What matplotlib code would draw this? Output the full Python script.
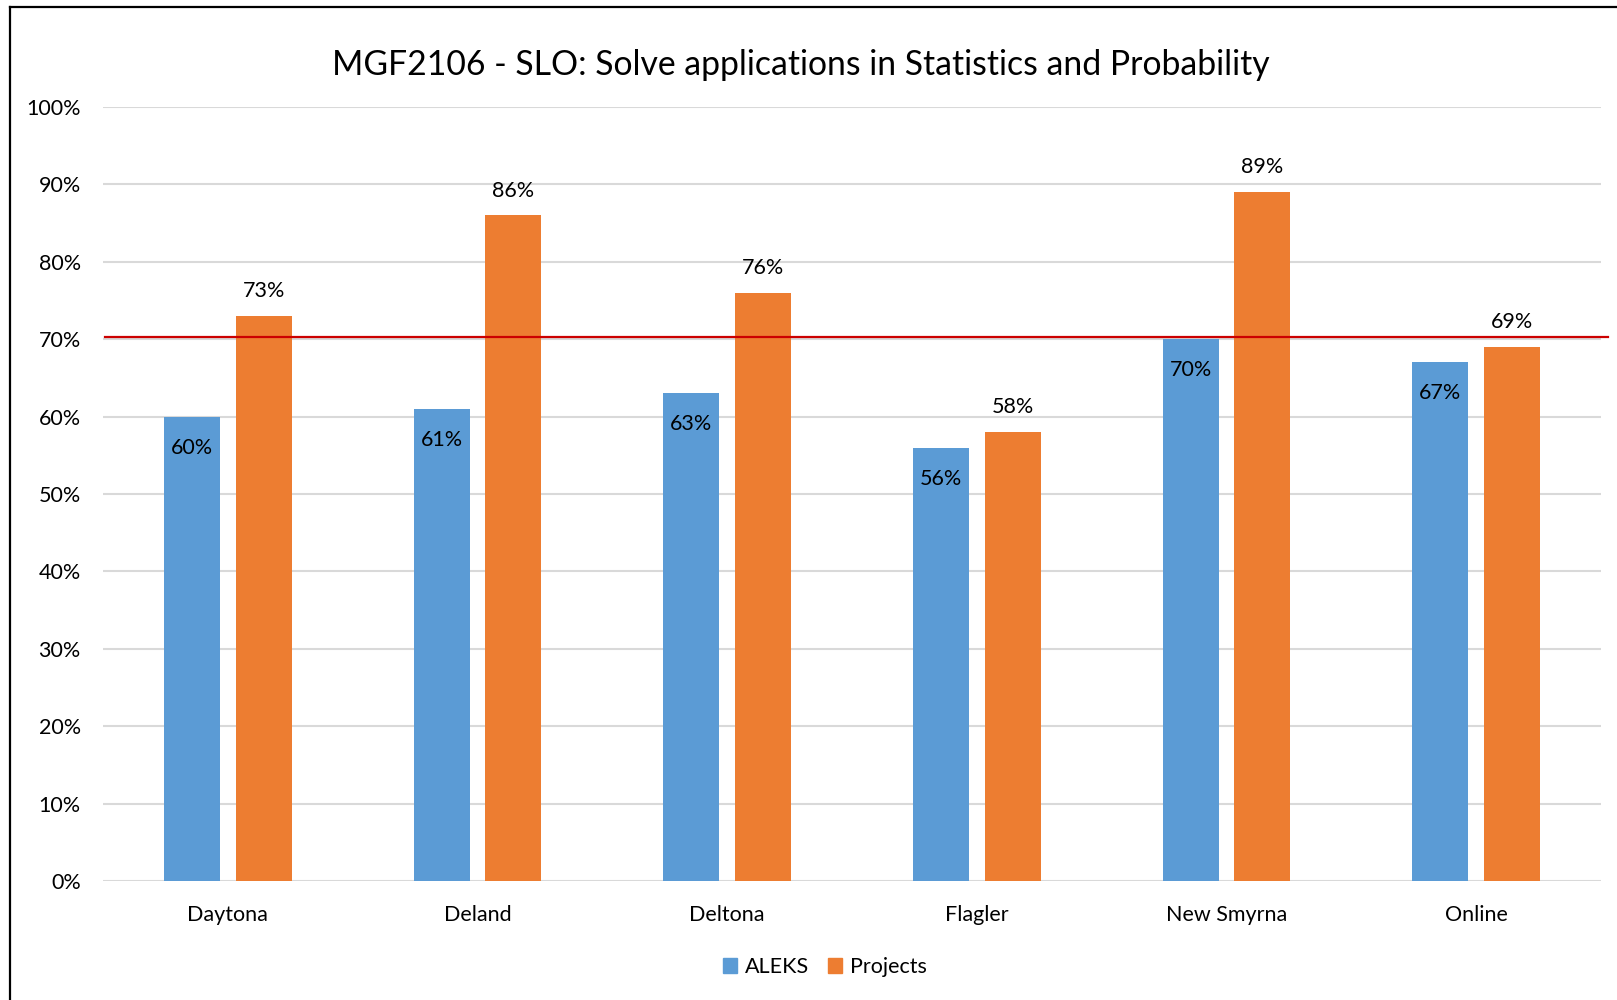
import matplotlib.pyplot as plt
import numpy as np
from matplotlib.lines import Line2D
from matplotlib.patches import Patch

plt.rcParams['font.family'] = ['Lato', 'DejaVu Sans']

campus = ['Daytona', 'Deland', 'Deltona', 'Flagler', 'New Smyrna', 'Online']
aleks = [60, 61, 63, 56, 70, 67]
projects = [73, 86, 76, 58, 89, 69]
target = 70.3
yticks = list(range(0, 101, 10))

blue = '#5B9BD5'
orange = '#ED7D31'
fs = 15.5

fig = plt.figure(figsize=(16.17, 10), dpi=100)
ax = fig.add_axes([103 / 1617, 0.119, (1601 - 103) / 1617, 0.893 - 0.119])

x = np.arange(len(campus))
w = 0.224
off = 0.144
ax.bar(x - off, aleks, w, color=blue, zorder=3)
ax.bar(x + off, projects, w, color=orange, zorder=3)

for xi, v in zip(x, aleks):
    ax.text(xi - off, v - 4.0, f'{v}%', ha='center', va='center', fontsize=fs, zorder=4)
for xi, v in zip(x, projects):
    ax.text(xi + off, v + 3.2, f'{v}%', ha='center', va='center', fontsize=fs, zorder=4)

ax.set_xlim(-0.5, len(campus) - 0.5)
ax.set_ylim(0, 100)
ax.set_yticks(yticks)
ax.set_yticklabels([f'{t}%' for t in yticks])
ax.set_xticks(x)
ax.set_xticklabels(campus)
ax.tick_params(axis='both', length=0, labelsize=fs)
ax.tick_params(axis='y', pad=16)
ax.tick_params(axis='x', pad=17)
ax.grid(axis='y', color='#D9D9D9', linewidth=1.5, zorder=0)
for s in ax.spines.values():
    s.set_visible(False)

# red target line, runs a bit past the plot area on the right
ax.plot([-0.49, 5.53], [target, target], color='#CC0000', linewidth=1.6, zorder=5, clip_on=False)

fig.text(0.495, 0.935, 'MGF2106 - SLO: Solve applications in Statistics and Probability',
         ha='center', va='center', fontsize=24.3)

handles = [Patch(color=blue, label='ALEKS'), Patch(color=orange, label='Projects')]
fig.legend(handles=handles, loc='center', bbox_to_anchor=(0.51, 0.033), ncol=2,
           frameon=False, fontsize=fs, handlelength=0.65, handleheight=0.65,
           handletextpad=0.35, columnspacing=0.9)

# outer chart border (left and top visible)
fig.add_artist(Line2D([10 / 1617, 10 / 1617], [0, 1 - 7 / 1000], color='black', linewidth=1.6))
fig.add_artist(Line2D([10 / 1617, 1], [1 - 7 / 1000, 1 - 7 / 1000], color='black', linewidth=1.6))

fig.savefig('out.png', dpi=100)
